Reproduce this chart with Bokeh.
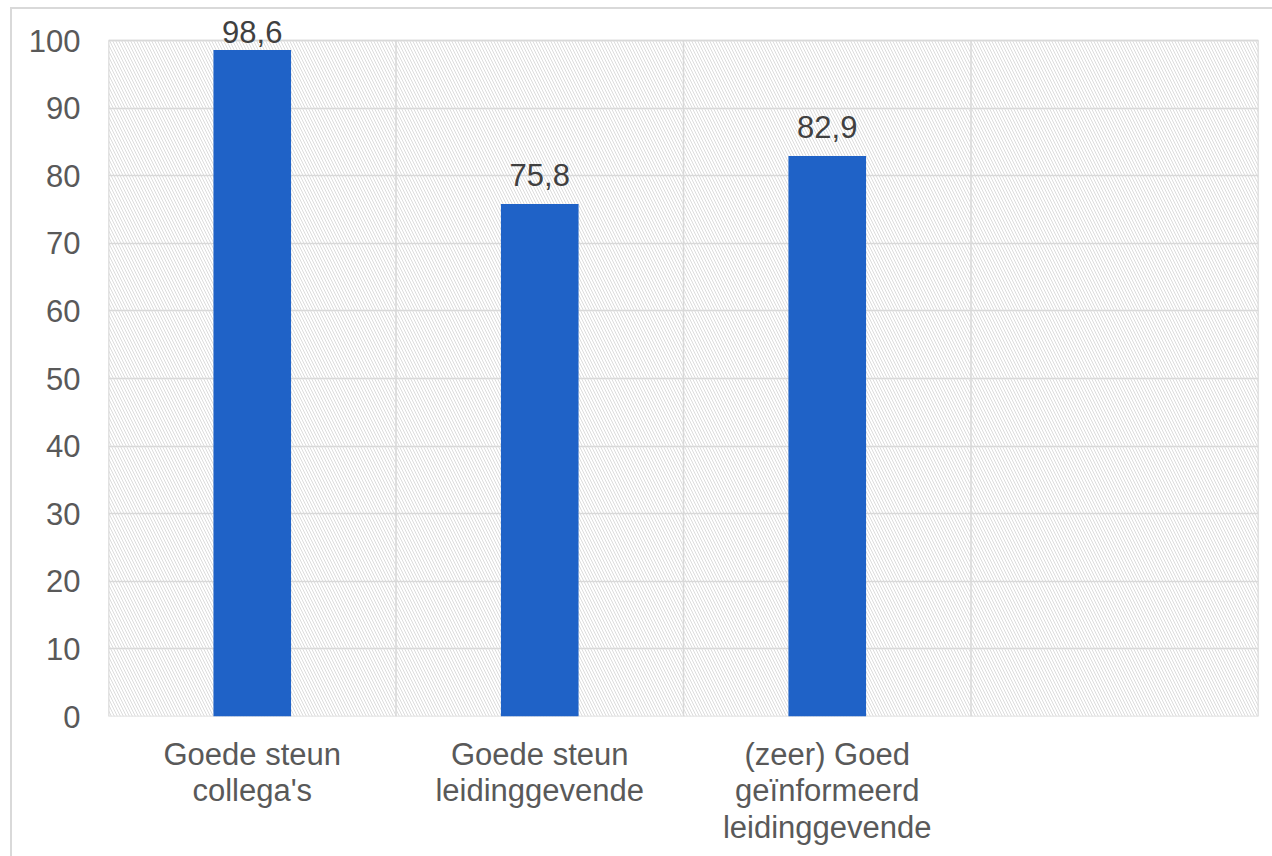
from bokeh.plotting import figure
from bokeh.models import ColumnDataSource, Range1d, FixedTicker
from bokeh.core.properties import value
from bokeh.embed import file_html
from bokeh.resources import INLINE

# Survey results (percentages)
categories = ["Goede steun\ncollega's", "Goede steun\nleidinggevende", "(zeer) Goed\ngeïnformeerd\nleidinggevende", ""]
values = [98.6, 75.8, 82.9]
y_ticks = [0, 10, 20, 30, 40, 50, 60, 70, 80, 90, 100]

FONT = "Liberation Sans"
BAR_COLOR = "#1F62C7"
GRID_COLOR = "#D9D9D9"

y_max = 100
px_per_unit = 6.76          # vertical scale of the plot area
head_px = 26                # room above the 100 line for value labels
frame_top = 14
frame_h = int(round(y_max * px_per_unit + head_px))

p = figure(
    frame_width=1150, frame_height=frame_h,
    min_border_left=108, min_border_right=14,
    min_border_top=frame_top, min_border_bottom=856 - frame_top - frame_h,
    x_range=Range1d(0, len(categories)),
    y_range=Range1d(0, y_max + head_px / px_per_unit),
    output_backend="svg", toolbar_location=None,
    background_fill_color=None, border_fill_color=None,
)
# Outer chart border painted behind the transparent canvas
p.styles = {
    "background-color": "white",
    "background-image": "linear-gradient(#D9D9D9, #D9D9D9), linear-gradient(#D9D9D9, #D9D9D9)",
    "background-size": "2px 100%, 100% 2px",
    "background-position": "10px 7px, 10px 7px",
    "background-repeat": "no-repeat",
}

n = len(categories)

# Hatched plot area with its border
bg = p.quad(left=[0], right=[n], bottom=[0], top=[y_max],
            fill_color="white", line_color=GRID_COLOR, line_width=1.5,
            hatch_pattern="\\", hatch_color="#DCDCDC", hatch_scale=6, hatch_weight=1)
bg.level = "image"

# Vertical separators between categories
bounds = list(range(n + 1))
p.segment(x0=bounds, y0=[0] * (n + 1), x1=bounds, y1=[y_max] * (n + 1),
          line_color=GRID_COLOR, line_width=1.5)

# Bars
xs = [i + 0.5 for i in range(len(values))]
labels = [f"{v:.1f}".replace(".", ",") for v in values]

# Value labels sit ~30px above the bar top, kept inside the chart area
offsets = []
for v in values:
    bar_top_px = frame_top + head_px + (y_max - v) * px_per_unit
    center = max(bar_top_px - 29.5, 31)
    offsets.append(center - bar_top_px)

src = ColumnDataSource(dict(x=xs, top=values, label=labels, yoff=offsets))
p.vbar(x="x", top="top", bottom=0, width=0.27, source=src,
       fill_color=BAR_COLOR, line_color=None)

p.text(x="x", y="top", text="label", y_offset="yoff", source=src,
       text_font=value(FONT), text_font_size="31px", text_color="#404040",
       text_align="center", text_baseline="alphabetic")

# Axes
p.yaxis.ticker = FixedTicker(ticks=y_ticks)
p.xaxis.ticker = FixedTicker(ticks=[i + 0.5 for i in range(n)])
p.xaxis.major_label_overrides = {i + 0.5: c for i, c in enumerate(categories)}

for ax in (p.xaxis, p.yaxis):
    ax.axis_line_color = None
    ax.major_tick_line_color = None
    ax.minor_tick_line_color = None
    ax.major_label_text_font = FONT
    ax.major_label_text_font_size = "31px"
    ax.major_label_text_color = "#595959"

p.yaxis.major_label_standoff = 22
p.xaxis.major_label_standoff = 14
p.xaxis.major_label_text_line_height = 1.05

p.ygrid.ticker = FixedTicker(ticks=y_ticks)
p.ygrid.grid_line_color = GRID_COLOR
p.ygrid.grid_line_width = 1.5
p.xgrid.visible = False
p.outline_line_color = None

open("out.html", "w").write(file_html(p, INLINE))
